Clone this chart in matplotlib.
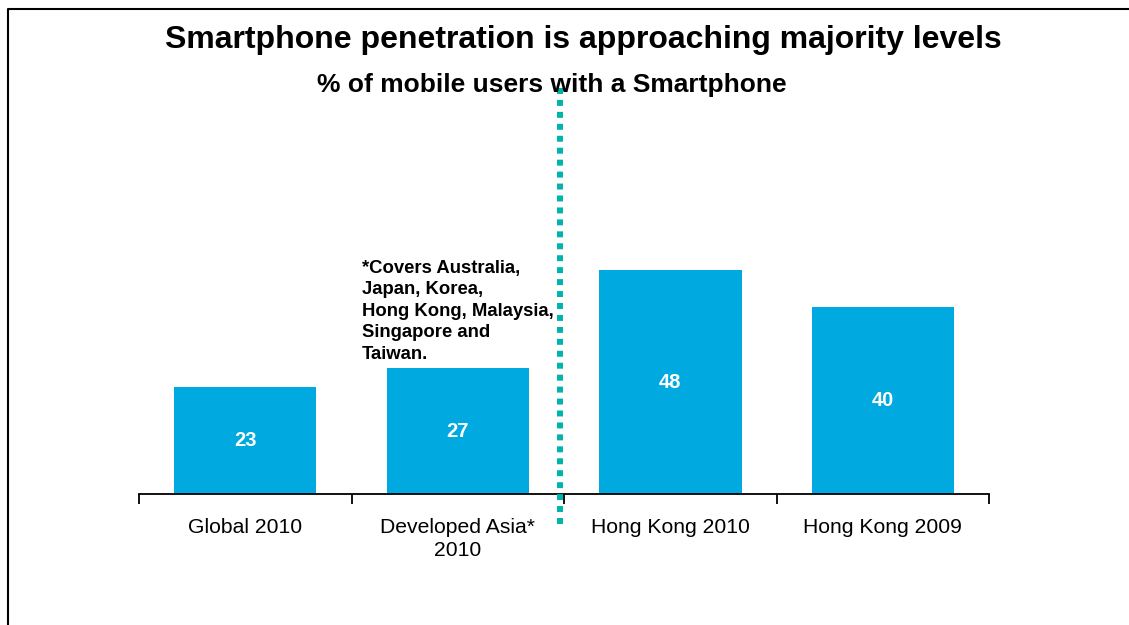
import matplotlib.pyplot as plt
from matplotlib.lines import Line2D

categories = ["Global 2010", "Developed Asia*\n2010", "Hong Kong 2010", "Hong Kong 2009"]
values = [23, 27, 48, 40]
note = "*Covers Australia,\nJapan, Korea,\nHong Kong, Malaysia,\nSingapore and\nTaiwan."

plt.rcParams['font.family'] = ['Liberation Sans', 'DejaVu Sans']

fig = plt.figure(figsize=(11.29, 6.25), dpi=100)
ax = fig.add_axes([0.1231, 0.2096, 0.753, 0.63])

x = range(len(values))
bars = ax.bar(x, values, width=0.67, color='#00A9E0')
ax.set_xlim(-0.5, len(values) - 0.5)
ax.set_ylim(0, 84.4)

for b, v in zip(bars, values):
    ax.text(b.get_x() + b.get_width() / 2, v / 2, str(v), ha='center', va='center',
            color='white', fontsize=14.5, fontweight='bold')

# axis line with ticks at category boundaries
for s in ['top', 'right', 'left']:
    ax.spines[s].set_visible(False)
ax.spines['bottom'].set_linewidth(1.3)
ax.set_yticks([])
ax.set_xticks([i - 0.5 for i in range(len(values) + 1)])
ax.set_xticklabels([])
ax.tick_params(axis='x', length=7, width=1.3, direction='out')
ax.set_xticks(list(x), minor=True)
ax.set_xticklabels(categories, minor=True, fontsize=15.2, linespacing=1.3)
ax.tick_params(axis='x', which='minor', length=0, pad=17)

# note text
fig.text(362 / 1129, 1 - 260 / 625, note, ha='left', va='top', fontsize=13.3,
         fontweight='bold', linespacing=1.34)

# dotted divider
fig.add_artist(Line2D([560 / 1129, 560 / 1129], [1 - 88 / 625, 1 - 526 / 625],
                      transform=fig.transFigure, color='#00B4AC', linewidth=4.3,
                      linestyle=(0, (1.0, 1.0)), solid_capstyle='butt',
                      dash_capstyle='butt'))

fig.text(583 / 1129, 1 - 40 / 625, "Smartphone penetration is approaching majority levels",
         ha='center', va='center', fontsize=23, fontweight='bold')
fig.text(552 / 1129, 1 - 85 / 625, "% of mobile users with a Smartphone",
         ha='center', va='center', fontsize=19, fontweight='bold')

# frame lines on left and top
fig.add_artist(Line2D([8 / 1129, 8 / 1129, 1], [0, 1 - 9 / 625, 1 - 9 / 625],
                      transform=fig.transFigure, color='black', linewidth=1.5))

fig.savefig('out.png', dpi=100)
